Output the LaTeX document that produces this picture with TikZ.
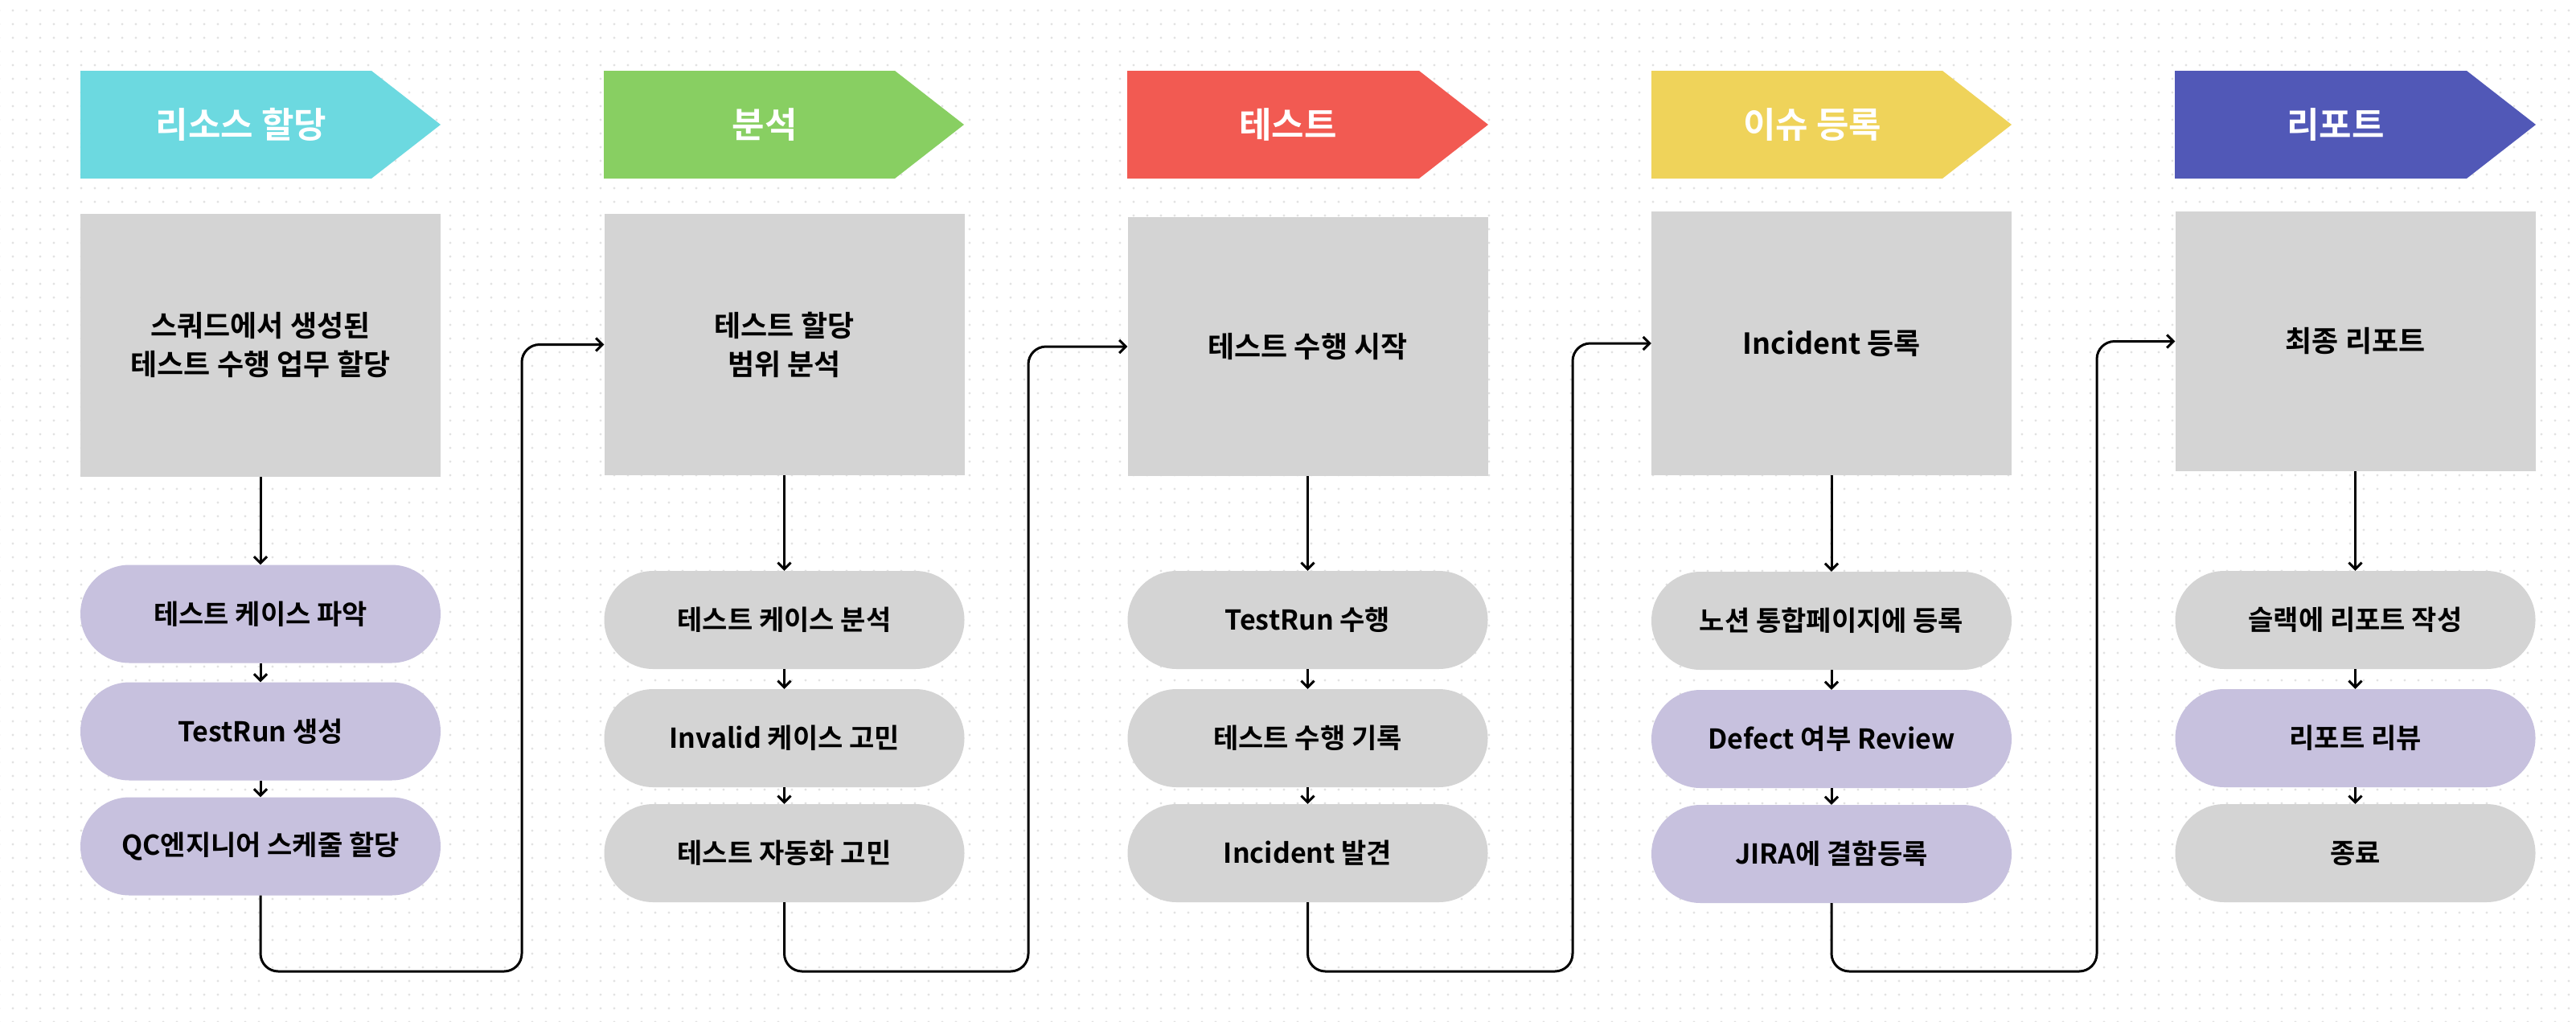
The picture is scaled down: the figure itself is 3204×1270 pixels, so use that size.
\documentclass[tikz,border=0pt]{standalone}
\usepackage{fontspec}
\newfontfamily\krb{Noto Sans CJK KR Bold}
\usetikzlibrary{arrows.meta,patterns.meta}
\definecolor{hcyan}{RGB}{108,217,224}
\definecolor{hgreen}{RGB}{136,207,98}
\definecolor{hred}{RGB}{242,90,82}
\definecolor{hyellow}{RGB}{239,211,90}
\definecolor{hblue}{RGB}{81,88,183}
\definecolor{boxgray}{RGB}{212,212,212}
\definecolor{pillpurple}{RGB}{199,193,222}
\definecolor{dotc}{RGB}{226,226,226}
\tikzset{
  hdrtext/.style={font=\krb\fontsize{44}{52}\selectfont, text=white, inner sep=0pt},
  bigbox/.style={fill=boxgray, minimum width=448pt, minimum height=326pt, inner sep=0pt, align=center, font=\krb\fontsize{36}{48}\selectfont},
  pillg/.style={fill=boxgray, rounded corners=61pt, minimum width=448pt, minimum height=122pt, inner sep=0pt, font=\krb\fontsize{34}{40}\selectfont},
  pillp/.style={pillg, fill=pillpurple},
  conn/.style={line width=3pt, -{Straight Barb[length=8pt,width=16pt]}},
  link/.style={conn, rounded corners=22pt}
}
\begin{document}
\begin{tikzpicture}[x=1pt,y=-1pt]
\useasboundingbox (0,0) rectangle (3204,1270);
\fill[white] (0,0) rectangle (3204,1270);
\fill[pattern={Dots[distance=17pt,radius=1.7pt]}, pattern color=dotc] (0,0) rectangle (3204,1270);

% headers
\fill[hcyan]   (100,88) -- (462,88) -- (548,155) -- (462,222) -- (100,222) -- cycle;
\fill[hgreen]  (751,88) -- (1113,88) -- (1199,155) -- (1113,222) -- (751,222) -- cycle;
\fill[hred]    (1402,88) -- (1765,88) -- (1851,155) -- (1765,222) -- (1402,222) -- cycle;
\fill[hyellow] (2054,88) -- (2416,88) -- (2502,155) -- (2416,222) -- (2054,222) -- cycle;
\fill[hblue]   (2705,88) -- (3068,88) -- (3154,155) -- (3068,222) -- (2705,222) -- cycle;
\node[hdrtext] (h1) at (300,155) {리소스 할당};
\node[hdrtext] (h2) at (951,155) {분석};
\node[hdrtext] (h3) at (1602,155) {테스트};
\node[hdrtext] (h4) at (2254,155) {이슈 등록};
\node[hdrtext] (h5) at (2905,155) {리포트};

% main boxes
\node[bigbox, minimum height=327pt] (b1) at (324,429.5) {스쿼드에서 생성된\\테스트 수행 업무 할당};
\node[bigbox, minimum height=325pt] (b2) at (975.5,428.5) {테스트 할당\\범위 분석};
\node[bigbox, minimum height=322pt] (b3) at (1626.5,431) {테스트 수행 시작};
\node[bigbox, minimum height=328pt] (b4) at (2278,427) {Incident 등록};
\node[bigbox, minimum height=323pt] (b5) at (2929.5,424.5) {최종 리포트};

% column 1
\node[pillp] (p11) at (324,763.5) {테스트 케이스 파악};
\node[pillp] (p12) at (324,909.5) {TestRun 생성};
\node[pillp] (p13) at (324,1052.5) {QC엔지니어 스케줄 할당};
% column 2
\node[pillg] (p21) at (975.5,771) {테스트 케이스 분석};
\node[pillg] (p22) at (975.5,918) {Invalid 케이스 고민};
\node[pillg] (p23) at (975.5,1061) {테스트 자동화 고민};
% column 3
\node[pillg] (p31) at (1626.5,771) {TestRun 수행};
\node[pillg] (p32) at (1626.5,918) {테스트 수행 기록};
\node[pillg] (p33) at (1626.5,1061) {Incident 발견};
% column 4
\node[pillg] (p41) at (2278,772) {노션 통합페이지에 등록};
\node[pillp] (p42) at (2278,919) {Defect 여부 Review};
\node[pillp] (p43) at (2278,1062) {JIRA에 결함등록};
% column 5
\node[pillg] (p51) at (2929.5,771) {슬랙에 리포트 작성};
\node[pillp] (p52) at (2929.5,918) {리포트 리뷰};
\node[pillg] (p53) at (2929.5,1061) {종료};

% vertical arrows
\foreach \c in {1,...,5}{
  \draw[conn] (b\c.south) -- (p\c1.north);
  \draw[conn] (p\c1.south) -- (p\c2.north);
  \draw[conn] (p\c2.south) -- (p\c3.north);
}

% links between columns
\coordinate (v1) at (649,1208);
\coordinate (v2) at (1279,1208);
\coordinate (v3) at (1956,1208);
\coordinate (v4) at (2608,1208);
\draw[link] (p13.south) |- (v1) |- (b2.west);
\draw[link] (p23.south) |- (v2) |- (b3.west);
\draw[link] (p33.south) |- (v3) |- (b4.west);
\draw[link] (p43.south) |- (v4) |- (b5.west);
\end{tikzpicture}
\end{document}
